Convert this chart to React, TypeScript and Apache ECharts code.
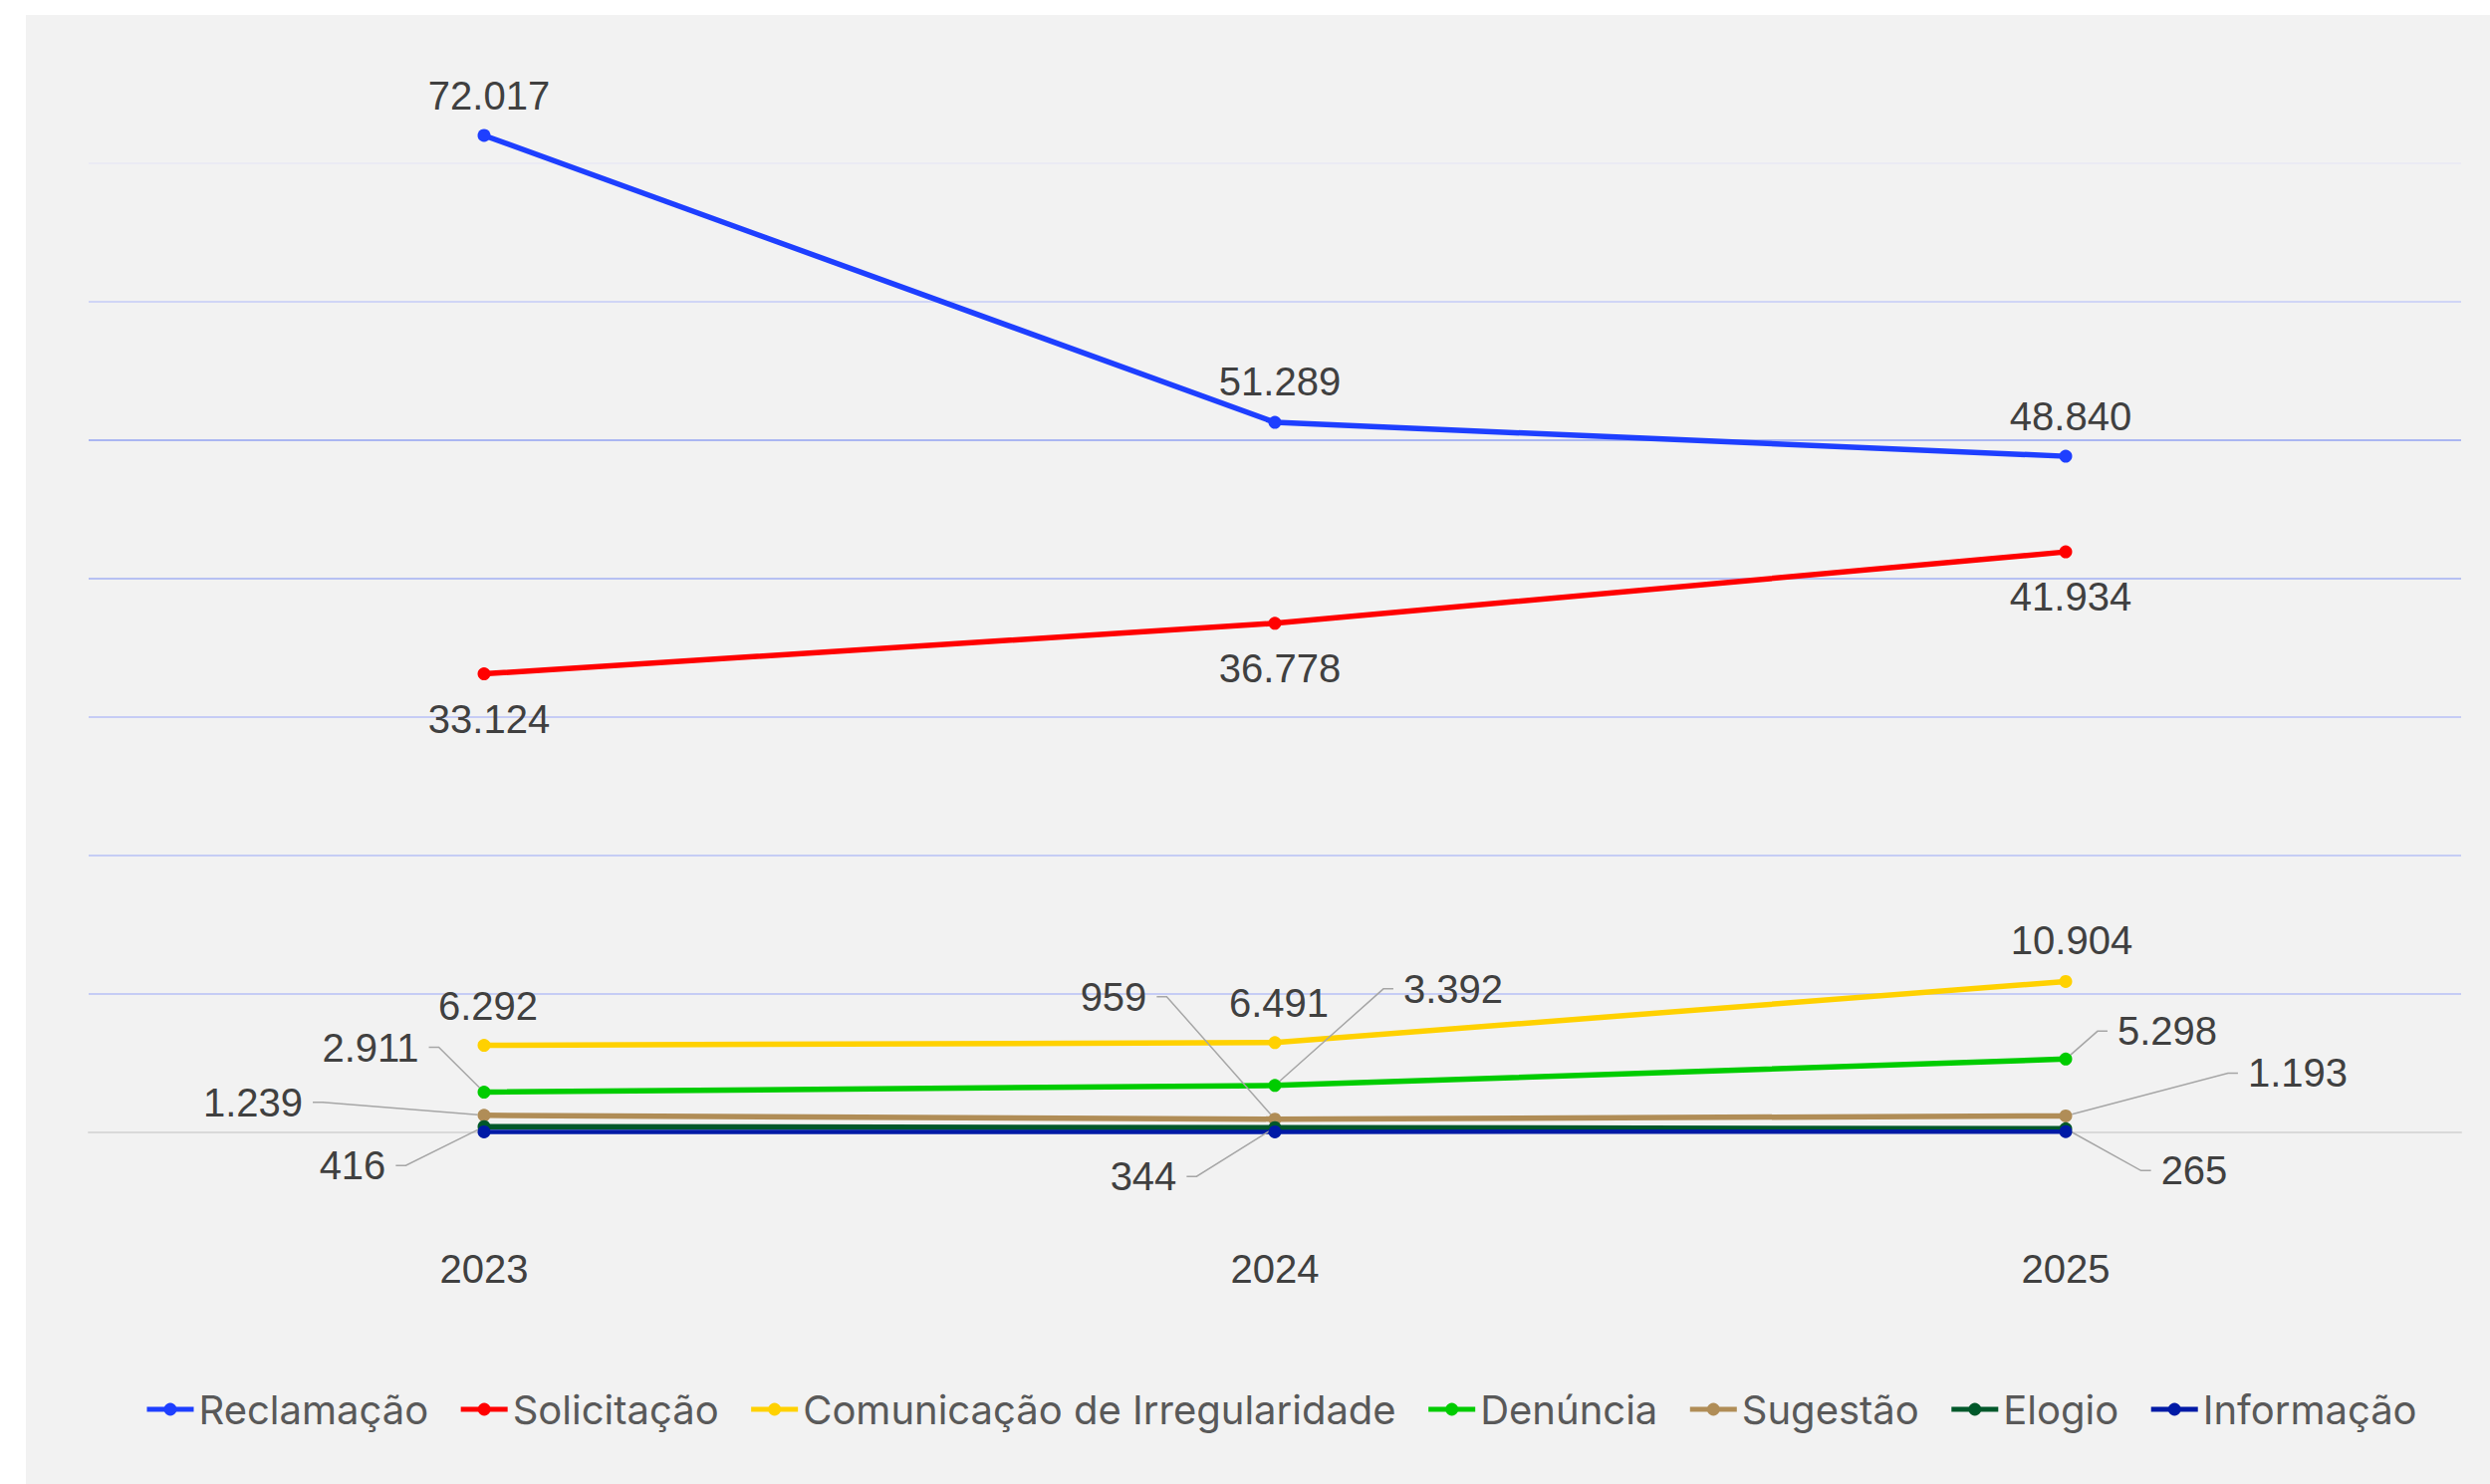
import React, { useEffect, useRef } from "react";
import * as echarts from "echarts";

const years = ["2023", "2024", "2025"];
const reclamacao = [72017, 51289, 48840];
const solicitacao = [33124, 36778, 41934];
const comunicacao = [6292, 6491, 10904];
const denuncia = [2911, 3392, 5298];
const sugestao = [1239, 959, 1193];
const elogio = [416, 344, 265];
const informacao = [40, 40, 60];

const yMin = 0;
const yMax = 80000;
const yInterval = 10000;

// label offsets (label centre relative to point), pixels
const offReclamacao = [[5, -40], [5, -41], [5, -40]];
const offSolicitacao = [[5, 45], [5, 45], [5, 45]];
const offComunicacao = [[4, -40], [4, -40], [6, -41]];
const offDenuncia = [[-114, -45], [179, -97], [102, -28]];
const offSugestao = [[-232, -13], [-162, -123], [233, -43]];
const offElogio = [[-132, 39], [-132, 49], [129, 42]];

const NUM_FONT = "'Liberation Sans', Arial, sans-serif";
const LEG_FONT = "Inter, 'Liberation Sans', sans-serif";

const fmt = (v: number) => String(v).replace(/\B(?=(\d{3})+(?!\d))/g, ".");

function makeSeries(name: string, data: number[], color: string, offsets: number[][] | null, leader: boolean, width = 5.5) {
  const s: any = {
    name,
    type: "line",
    data,
    color,
    symbol: "circle",
    symbolSize: 13,
    showSymbol: true,
    lineStyle: { width, color },
    itemStyle: { color },
    label: offsets
      ? {
          show: true,
          formatter: (p: any) => fmt(p.value),
          fontSize: 40,
          fontFamily: NUM_FONT,
          color: "#404040",
          padding: [0, 10],
          lineHeight: 40,
        }
      : { show: false },
    labelLine: { show: leader, length2: 10, lineStyle: { color: "#a6a6a6", width: 1.5 } },
    emphasis: { disabled: true },
  };
  if (offsets) {
    s.labelLayout = (p: any) => {
      const o = offsets[p.dataIndex];
      return {
        x: p.rect.x + p.rect.width / 2 + o[0],
        y: p.rect.y + p.rect.height / 2 + o[1],
        align: "center",
        verticalAlign: "middle",
      };
    };
  }
  return s;
}

export default function App() {
  const ref = useRef<HTMLDivElement>(null);
  useEffect(() => {
    if (!ref.current) return;
    const chart = echarts.init(ref.current, undefined, { renderer: "svg" });
    chart.setOption({
      animation: false,
      backgroundColor: "#f2f2f2",
      graphic: [
        { type: "rect", left: 0, top: 0, shape: { width: 2500, height: 15 }, style: { fill: "#ffffff" }, silent: true },
        { type: "rect", left: 0, top: 0, shape: { width: 26, height: 1490 }, style: { fill: "#ffffff" }, silent: true },
      ],
      grid: { left: 89, right: 29, top: 25, bottom: 353, containLabel: false },
      legend: {
        left: 140,
        top: 1386,
        itemWidth: 47,
        itemHeight: 16,
        itemGap: 30,
        lineStyle: { width: 5 },
        textStyle: { fontSize: 40, fontFamily: LEG_FONT, color: "#595959", lineHeight: 48 },
        data: ["Reclamação", "Solicitação", "Comunicação de Irregularidade", "Denúncia", "Sugestão", "Elogio", "Informação"],
      },
      xAxis: {
        type: "category",
        data: years,
        boundaryGap: true,
        axisTick: { show: false },
        axisLine: { show: true, lineStyle: { color: "#d9d9d9", width: 2 } },
        axisLabel: { fontSize: 40, fontFamily: NUM_FONT, color: "#404040", margin: 117, lineHeight: 40 },
      },
      yAxis: {
        type: "value",
        min: yMin,
        max: yMax,
        interval: yInterval,
        axisLabel: { show: false },
        axisLine: { show: false },
        axisTick: { show: false },
        splitLine: {
          show: true,
          lineStyle: {
            width: 2,
            color: ["#d9d9d9", "#c5ccf5", "#c6cdf5", "#c6ccf5", "#b7c1f3", "#aab6f2", "#d0d5f6", "#ebebf4", "rgba(0,0,0,0)"],
          },
        },
      },
      series: [
        makeSeries("Reclamação", reclamacao, "#1E3FFF", offReclamacao, false),
        makeSeries("Solicitação", solicitacao, "#FF0000", offSolicitacao, false),
        makeSeries("Comunicação de Irregularidade", comunicacao, "#FFD100", offComunicacao, false),
        makeSeries("Denúncia", denuncia, "#00CC00", offDenuncia, true),
        makeSeries("Sugestão", sugestao, "#B08D57", offSugestao, true),
        makeSeries("Elogio", elogio, "#00582A", offElogio, true),
        makeSeries("Informação", informacao, "#001AA6", null, false, 4.5),
      ],
    });
    return () => chart.dispose();
  }, []);
  return <div ref={ref} style={{ position: "absolute", left: 0, top: 0, width: 2500, height: 1490 }} />;
}
